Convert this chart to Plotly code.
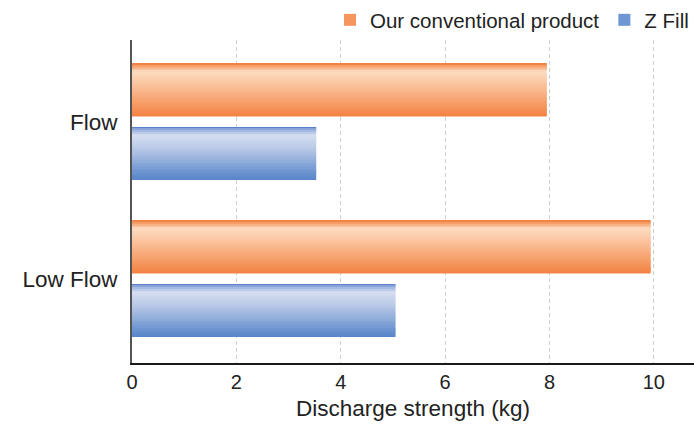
import plotly.graph_objects as go

# Discharge strength per flow setting (kg)
categories = ["Flow", "Low Flow"]
conventional = [7.95, 9.94]
z_fill = [3.53, 5.05]
series_names = ["Our conventional product", "Z Fill"]
x_ticks = [0, 2, 4, 6, 8, 10]

# vertical gradient stops (position from bar top, rgb)
orange_stops = [(0.0, (237, 118, 52)), (0.06, (246, 165, 115)), (0.16, (253, 219, 194)),
                (0.45, (250, 190, 150)), (1.0, (243, 130, 66))]
blue_stops = [(0.0, (66, 112, 194)), (0.06, (150, 175, 222)), (0.16, (215, 223, 240)),
              (0.45, (180, 197, 230)), (1.0, (86, 133, 201))]


def color_at(stops, t):
    for (p0, c0), (p1, c1) in zip(stops, stops[1:]):
        if p0 <= t <= p1:
            f = (t - p0) / (p1 - p0) if p1 > p0 else 0
            c = [round(a + (b - a) * f) for a, b in zip(c0, c1)]
            return f"rgb({c[0]},{c[1]},{c[2]})"
    c = stops[-1][1]
    return f"rgb({c[0]},{c[1]},{c[2]})"


fig = go.Figure()

bar_w = 0.335
N = 30
for values, stops, off in [(conventional, orange_stops, -0.37),
                           (z_fill, blue_stops, 0.033)]:
    slice_w = bar_w / N
    for i in range(N):
        t = (i + 0.5) / N
        fig.add_trace(go.Bar(
            x=values, y=categories, orientation="h",
            offset=off + i * slice_w, width=slice_w * 1.08 if i < N - 1 else slice_w,
            marker=dict(color=color_at(stops, t), line=dict(width=0)),
            showlegend=False, hoverinfo="skip",
        ))

# legend entries
for name, col in zip(series_names, ["rgb(245,150,95)", "rgb(110,150,212)"]):
    fig.add_trace(go.Bar(x=[None], y=[None], orientation="h", name=name,
                         marker=dict(color=col, line=dict(width=0))))

font_family = "Liberation Sans, Arial, sans-serif"

fig.update_layout(
    width=694, height=428,
    margin=dict(l=132, r=0, t=40, b=65),
    paper_bgcolor="white", plot_bgcolor="white",
    barmode="overlay",
    font=dict(family=font_family, color="#222222", size=20),
    legend=dict(orientation="h", x=1, xanchor="right", y=1.0, yanchor="top",
                xref="container", yref="container",
                font=dict(size=20.5, color="#222222"),
                itemwidth=30, traceorder="normal", bgcolor="rgba(0,0,0,0)"),
    xaxis=dict(range=[0, 10.77], tickvals=x_ticks, ticktext=[str(v) for v in x_ticks],
               showgrid=True, gridcolor="#cfcfcf", griddash="4px,3px", gridwidth=1,
               zeroline=False, showline=True, linecolor="#1a1a1a", linewidth=1.5,
               ticks="", tickfont=dict(size=20),
               title=dict(text="Discharge strength (kg)", font=dict(size=22.5), standoff=8)),
    yaxis=dict(categoryorder="array", categoryarray=categories, range=[1.535, -0.522],
               showgrid=False, zeroline=False, showline=True, linecolor="#555555",
               linewidth=2, ticks="outside", ticklen=8, tickcolor="rgba(0,0,0,0)",
               tickfont=dict(size=22.5)),
)

fig.write_html("out.html")
